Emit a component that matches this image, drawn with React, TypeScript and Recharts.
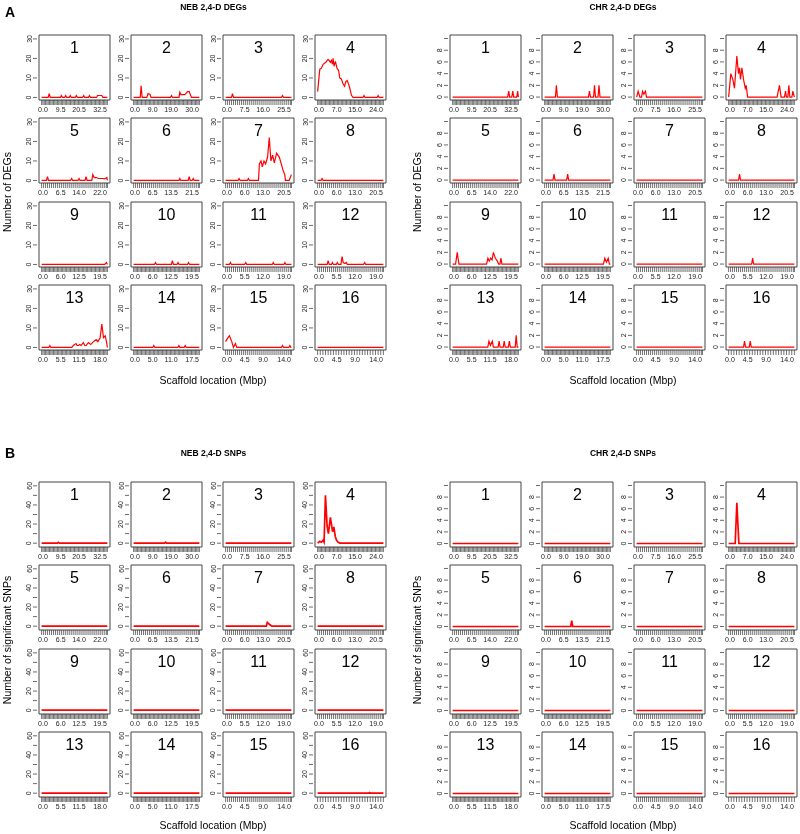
import React from 'react';
import { LineChart, Line, XAxis, YAxis, ReferenceArea } from 'recharts';

type Pt = [number, number];

// x = position along the scaffold plot (0..100 of the window index range), y = count
const CHROMOSOMES = ['1', '2', '3', '4', '5', '6', '7', '8', '9', '10', '11', '12', '13', '14', '15', '16'];

const X_TICK_POS = [2, 29, 57, 89];
const X_TICK_LABELS: string[][] = [
  ['0.0', '9.5', '20.5', '32.5'],
  ['0.0', '9.0', '19.0', '30.0'],
  ['0.0', '7.5', '16.0', '25.5'],
  ['0.0', '7.0', '15.0', '24.0'],
  ['0.0', '6.5', '14.0', '22.0'],
  ['0.0', '6.5', '13.5', '21.5'],
  ['0.0', '6.0', '13.0', '20.5'],
  ['0.0', '6.0', '13.0', '20.5'],
  ['0.0', '6.0', '12.5', '19.5'],
  ['0.0', '6.0', '12.5', '19.5'],
  ['0.0', '5.5', '12.0', '19.0'],
  ['0.0', '5.5', '12.0', '19.0'],
  ['0.0', '5.5', '11.5', '18.0'],
  ['0.0', '5.0', '11.0', '17.5'],
  ['0.0', '4.5', '9.0', '14.0'],
  ['0.0', '4.5', '9.0', '14.0'],
];
// approximate density of the rug marks per scaffold
const RUG_COUNTS = [51, 51, 40, 51, 40, 40, 40, 40, 51, 51, 40, 40, 51, 51, 40, 30];

const FLAT: Pt[] = [[0, 0], [100, 0]];

const NEB_DEGS: Pt[][] = [
  [[0, 0], [10, 0], [11.5, 2], [13, 0], [28.5, 0], [30, 1], [31.5, 0], [35, 0], [36.5, 1], [38, 0], [42, 0], [43.6, 1], [45, 0], [51.3, 0], [52.8, 1], [54.3, 0], [62.5, 0], [64, 1], [65.5, 0], [71.2, 0], [72.7, 1], [74.2, 0], [83.5, 0], [85, 1], [91.6, 1], [93, 0], [100, 0]],
  [[0, 0], [10, 0], [11.4, 6], [13, 0], [20, 0], [22, 2], [25, 1.5], [26.5, 0], [56, 0], [57.6, 1], [59, 0], [69, 0], [70.3, 2.7], [72, 1.5], [74.4, 1.5], [77.9, 1.5], [82, 3], [84.5, 3], [88, 0], [100, 0]],
  [[0, 0], [9, 0], [10.4, 2], [12, 0], [85, 0], [86.6, 1], [88, 0], [100, 0]],
  [[0, 3], [3.3, 14.5], [5.8, 15], [8.3, 17], [12.4, 18], [15.9, 19.5], [17.4, 19], [19.4, 18], [21, 19], [22.5, 17], [23.5, 20], [25, 16], [27, 18.5], [29.5, 15], [32, 13.7], [33.6, 10], [36, 9.5], [38.6, 7], [41, 5.7], [42.7, 8], [45, 8.7], [47.7, 6.2], [49.7, 3.7], [51.3, 1.2], [53.8, 0], [69, 0], [70.5, 1], [72, 0], [90.6, 0], [92, 1], [93.5, 0], [100, 0]],
  [[0, 0], [7.5, 0], [8.9, 2], [10.5, 0], [44, 0], [45.7, 1], [47, 0], [55.5, 0], [57, 1], [58.5, 0], [66, 0], [67.6, 2], [69, 0], [76.3, 0], [77.8, 3], [80, 1.5], [82.9, 1.5], [86.5, 1], [89, 1], [92.6, 1], [95.7, 0.8], [99.2, 1.5], [100, 0]],
  [[0, 0], [69, 0], [70.3, 1], [71.6, 0], [83, 0], [84.5, 2], [86, 0], [89, 0], [90.6, 1], [92, 0], [100, 0]],
  [[0, 0], [19, 0], [20.5, 1], [22, 0], [33, 0], [34.6, 1], [36, 0], [50, 0], [51.3, 8.5], [53.8, 10], [55.8, 7], [58.3, 10], [60.8, 8.5], [63.8, 12], [66.4, 22], [68.9, 10], [71.5, 13], [74, 9], [77.5, 14], [81.6, 12], [85, 8], [87.6, 5], [90, 3], [91, 0], [96.7, 0], [100, 3]],
  [[0, 0], [5.3, 0], [6.8, 1], [8.3, 0], [100, 0]],
  [[0, 0], [96, 0], [98.5, 1], [100, 0]],
  [[0, 0], [31.7, 0], [33.2, 1], [34.7, 0], [57.5, 0], [59, 2], [60.5, 0], [66, 0], [67.6, 1], [69, 0], [82, 0], [83.5, 1], [85, 0], [100, 0]],
  [[0, 0], [5.8, 0], [7.3, 1], [8.8, 0], [29, 0], [30.6, 1], [32, 0], [71, 0], [72.5, 1], [74, 0], [88.7, 0], [90.2, 1], [91.7, 0], [100, 0]],
  [[0, 0], [14.5, 0], [16, 2], [17.5, 0], [21, 0], [22.5, 1], [24, 0], [28.5, 0], [30, 1], [31.5, 0], [35.5, 0], [37.1, 4], [39, 1], [41.5, 0.5], [43.7, 1], [45, 0], [70, 0], [71.5, 1], [73, 0], [100, 0]],
  [[0, 0], [11, 0], [12.5, 1], [14, 0], [46, 0], [48.2, 1], [52.3, 2], [54, 1], [55.9, 1], [58, 1.5], [60, 1], [63.5, 2.5], [65.5, 1], [67.6, 1], [71.2, 2.5], [74.7, 1.5], [78.8, 3], [82.9, 4], [85.5, 3], [89, 5], [91.6, 12], [94.1, 5], [96.7, 6], [99.2, 2], [100, 0]],
  [[0, 0], [29.2, 0], [30.7, 1], [32.2, 0], [67.3, 0], [68.8, 1], [70.3, 0], [76.9, 0], [78.4, 1], [79.9, 0], [100, 0]],
  [[0, 3], [3.5, 5], [5.8, 6], [9.3, 3], [11.9, 0], [14.9, 2], [16.9, 0], [85, 0], [86.6, 1], [88.2, 0], [96.2, 0], [97.7, 1], [99.2, 0], [100, 0]],
  FLAT,
];

const CHR_DEGS: Pt[][] = [
  [[0, 0], [83.8, 0], [85.3, 1], [86.8, 0], [90, 0], [91.5, 1], [93, 0], [97.5, 0], [99, 1], [100, 0]],
  [[0, 0], [16.4, 0], [17.9, 2], [19.4, 0], [66.7, 0], [68.2, 1], [69.7, 0], [74.4, 0], [75.9, 2], [77.4, 0], [81.2, 0], [82.7, 2], [84.2, 0], [100, 0]],
  [[0, 0], [2.3, 1], [5, 0], [7.5, 0], [9, 1], [11, 0.5], [13.5, 1], [15, 0], [100, 0]],
  [[0, 0], [3.3, 4], [6.4, 3], [8.9, 1.5], [12.5, 7], [15, 4], [16.6, 5], [18, 3], [20.2, 5], [22.7, 3], [25.3, 1.5], [26.8, 2], [28.8, 0], [73.7, 0], [77.3, 2], [79.8, 0], [85, 0], [86.5, 1], [88, 0], [90.1, 0], [91.6, 2], [93.1, 0], [96.2, 0], [97.7, 1], [100, 0]],
  FLAT,
  [[0, 0], [12.8, 0], [14.3, 1], [15.8, 0], [33.5, 0], [35, 1], [36.5, 0], [100, 0]],
  FLAT,
  [[0, 0], [15.1, 0], [16.6, 1], [18.1, 0], [100, 0]],
  [[0, 0], [4.5, 0], [7, 2], [9.6, 0], [51.6, 0], [53.7, 1], [55.7, 0.5], [57.8, 1], [60, 0.7], [62, 2], [65, 1], [68, 0.5], [70, 0], [72, 0], [73.4, 1], [75, 0], [100, 0]],
  [[0, 0], [89.5, 0], [91.5, 1], [94, 0.3], [96.7, 1], [98.5, 0], [100, 0]],
  FLAT,
  [[0, 0], [35, 0], [36.5, 1], [38, 0], [100, 0]],
  [[0, 0], [53.5, 0], [55.2, 1], [57.5, 0.3], [60.4, 1], [62, 0], [69.2, 0], [70.7, 1], [72.2, 0], [77, 0], [78.5, 1], [80, 0], [84.8, 0], [86.3, 1], [87.8, 0], [95.2, 0], [96.7, 2], [98.2, 0], [100, 0]],
  FLAT,
  FLAT,
  [[0, 0], [22.7, 0], [24.2, 1], [25.7, 0], [31.4, 0], [32.9, 1], [34.4, 0], [100, 0]],
];

const NEB_SNPS: Pt[][] = [
  [[0, 0], [23.8, 0], [25.3, 0.8], [26.8, 0], [100, 0]],
  [[0, 0], [47, 0], [48.5, 1], [50, 0], [100, 0]],
  FLAT,
  [[0, 0], [3.3, 2], [5.8, 1], [8.3, 3], [9.8, 1], [11.9, 50], [14.4, 18], [16.4, 10], [19.4, 27], [21, 20], [22.7, 12], [24.7, 17], [26.8, 7], [28.8, 3], [31.3, 1], [33.8, 0], [100, 0]],
  FLAT,
  FLAT,
  [[0, 0], [61.9, 0], [63.4, 4], [66.4, 2], [68.4, 1], [70, 0], [100, 0]],
  FLAT,
  FLAT,
  FLAT,
  FLAT,
  FLAT,
  FLAT,
  FLAT,
  FLAT,
  [[0, 0], [77.5, 0], [79, 0.6], [80.5, 0], [100, 0]],
];

const CHR_SNPS: Pt[][] = [
  FLAT,
  FLAT,
  FLAT,
  [[0, 0], [10, 0], [12.5, 7], [15.6, 0], [100, 0]],
  FLAT,
  [[0, 0], [39.7, 0], [41.2, 1], [42.7, 0], [100, 0]],
  FLAT,
  FLAT,
  FLAT,
  FLAT,
  FLAT,
  FLAT,
  FLAT,
  FLAT,
  FLAT,
  FLAT,
];

interface PanelCfg {
  series: Pt[][];
  yDomain: [number, number];
  yTicks: number[];
  yLabeled: number[];
  dx: number;
  dy: number;
  lineWidth: number;
}

const PANELS: PanelCfg[] = [
  { series: NEB_DEGS, yDomain: [-1.3, 32], yTicks: [0, 10, 20, 30], yLabeled: [0, 10, 20, 30], dx: 0, dy: 0, lineWidth: 1.2 },
  { series: CHR_DEGS, yDomain: [-0.5, 10.6], yTicks: [0, 2, 4, 6, 8, 10], yLabeled: [0, 2, 4, 6, 8], dx: 411, dy: 0, lineWidth: 1.2 },
  { series: NEB_SNPS, yDomain: [-4, 64], yTicks: [0, 10, 20, 30, 40, 50, 60], yLabeled: [0, 20, 40, 60], dx: 0, dy: 447, lineWidth: 1.7 },
  { series: CHR_SNPS, yDomain: [-0.6, 10.6], yTicks: [0, 2, 4, 6, 8, 10], yLabeled: [0, 2, 4, 6, 8], dx: 411, dy: 447, lineWidth: 1.7 },
];

const BOX_LEFTS = [39, 131, 223, 315];
const BOX_TOPS = [35, 118, 202, 285];
const Y_AXIS_W = 21;
const FONT = '"Liberation Sans", Arial, Helvetica, sans-serif';
const TICK_COLOR = '#222';

const EmptyTick = () => <g />;

const makeXTick = (labels: string[]) => (props: any) => {
  const { x, y, payload } = props;
  const i = X_TICK_POS.indexOf(payload.value);
  return (
    <text x={x} y={y + 6} textAnchor="middle" fontSize={7} fill={TICK_COLOR} fontFamily={FONT}>
      {i >= 0 ? labels[i] : ''}
    </text>
  );
};

const makeYTick = (labeled: number[]) => (props: any) => {
  const { x, y, payload } = props;
  const show = labeled.includes(payload.value);
  const tx = x - 7.5;
  return (
    <g>
      <line x1={x - 2} x2={x - 6} y1={y} y2={y} stroke="#444" strokeWidth={0.8} />
      {show && (
        <text x={tx} y={y} transform={`rotate(-90 ${tx} ${y})`} textAnchor="middle" fontSize={7} fill={TICK_COLOR} fontFamily={FONT}>
          {payload.value}
        </text>
      )}
    </g>
  );
};

function SmallChart({ points, idx, panel }: { points: Pt[]; idx: number; panel: PanelCfg }) {
  const data = points.map(([x, y]) => ({ x, y }));
  return (
    <LineChart width={93} height={84} data={data} margin={{ top: 1, right: 1, bottom: 0, left: 0 }}>
      <XAxis
        xAxisId="a_rug"
        type="number"
        dataKey="x"
        domain={[0, 100]}
        padding={{ left: 2.63, right: 2.63 }}
        tickCount={RUG_COUNTS[idx]}
        interval={0}
        axisLine={false}
        tickSize={5}
        tickLine={{ stroke: '#333', strokeWidth: 0.7 }}
        tick={EmptyTick}
        height={6}
      />
      <XAxis
        xAxisId="b_lab"
        type="number"
        dataKey="x"
        domain={[-4, 104]}
        ticks={X_TICK_POS}
        interval={0}
        axisLine={false}
        tickLine={false}
        tickSize={0}
        tickMargin={0}
        height={12}
        tick={makeXTick(X_TICK_LABELS[idx])}
      />
      <YAxis
        type="number"
        domain={panel.yDomain}
        ticks={panel.yTicks}
        interval={0}
        width={Y_AXIS_W}
        axisLine={false}
        tickLine={false}
        tickSize={0}
        tickMargin={0}
        tick={makeYTick(panel.yLabeled)}
      />
      <ReferenceArea
        xAxisId="b_lab"
        x1={-4}
        x2={104}
        y1={panel.yDomain[0]}
        y2={panel.yDomain[1]}
        fill="none"
        fillOpacity={0}
        stroke="#444"
        strokeWidth={1}
        ifOverflow="visible"
        label={{ value: CHROMOSOMES[idx], position: 'insideTop', offset: 7, fontSize: 16, fill: '#000', fontFamily: FONT }}
      />
      <Line
        xAxisId="b_lab"
        type="linear"
        dataKey="y"
        stroke="#ff0000"
        strokeWidth={panel.lineWidth}
        dot={false}
        activeDot={false}
        isAnimationActive={false}
      />
    </LineChart>
  );
}

export default function App() {
  return (
    <div style={{ position: 'absolute', left: 0, top: 0, width: 800, height: 834, background: '#fff', overflow: 'hidden', fontFamily: FONT }}>
      <svg width={800} height={834} style={{ position: 'absolute', left: 0, top: 0, willChange: 'transform' }} fontFamily={FONT}>
        <text x={5} y={17} fontSize={14} fontWeight="bold" fill="#000">A</text>
        <text x={213.5} y={9.5} fontSize={8.5} fontWeight="bold" textAnchor="middle" fill="#000">NEB 2,4-D DEGs</text>
        <text x={623} y={9.5} fontSize={8.5} fontWeight="bold" textAnchor="middle" fill="#000">CHR 2,4-D DEGs</text>
        <text x={11} y={192} fontSize={10.5} textAnchor="middle" fill="#000" transform="rotate(-90 11 192)">Number of DEGs</text>
        <text x={421} y={192} fontSize={10.5} textAnchor="middle" fill="#000" transform="rotate(-90 421 192)">Number of DEGs</text>
        <text x={213} y={384} fontSize={10.5} textAnchor="middle" fill="#000">Scaffold location (Mbp)</text>
        <text x={623} y={384} fontSize={10.5} textAnchor="middle" fill="#000">Scaffold location (Mbp)</text>

        <text x={5} y={458} fontSize={14} fontWeight="bold" fill="#000">B</text>
        <text x={213.5} y={456} fontSize={8.5} fontWeight="bold" textAnchor="middle" fill="#000">NEB 2,4-D SNPs</text>
        <text x={623} y={456} fontSize={8.5} fontWeight="bold" textAnchor="middle" fill="#000">CHR 2,4-D SNPs</text>
        <text x={11} y={640} fontSize={10.5} textAnchor="middle" fill="#000" transform="rotate(-90 11 640)">Number of significant SNPs</text>
        <text x={421} y={640} fontSize={10.5} textAnchor="middle" fill="#000" transform="rotate(-90 421 640)">Number of significant SNPs</text>
        <text x={213} y={829} fontSize={10.5} textAnchor="middle" fill="#000">Scaffold location (Mbp)</text>
        <text x={623} y={829} fontSize={10.5} textAnchor="middle" fill="#000">Scaffold location (Mbp)</text>
      </svg>
      {PANELS.map((panel, p) =>
        panel.series.map((points, i) => {
          const col = i % 4;
          const row = Math.floor(i / 4);
          const left = panel.dx + BOX_LEFTS[col] - Y_AXIS_W;
          const top = panel.dy + BOX_TOPS[row] - 1;
          return (
            <div key={`${p}-${i}`} style={{ position: 'absolute', left, top, willChange: 'transform' }}>
              <SmallChart points={points} idx={i} panel={panel} />
            </div>
          );
        })
      )}
    </div>
  );
}
